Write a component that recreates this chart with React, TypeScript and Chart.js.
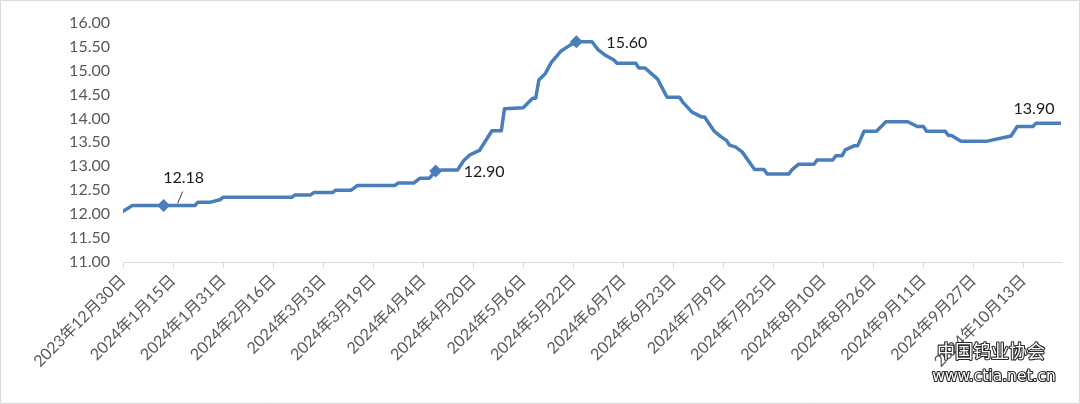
import React, { useEffect, useRef } from "react";
import { Chart, registerables } from "chart.js";

Chart.register(...registerables);

// Day offsets from 2023-12-30 and the price read at each vertex of the line
const dayOffsets = [
  0, 3, 13, 23, 24, 28, 31, 32, 54, 55, 60, 61, 67, 68, 73, 75, 87, 88, 93, 95,
  98, 100, 102, 107, 109, 111, 114, 118, 121, 122, 128, 131, 132, 133, 135, 137,
  140, 143, 145, 150, 152, 154, 157, 158, 164, 165, 167, 171, 174, 178, 179, 182,
  185, 186, 189, 191, 193, 194, 196, 198, 202, 205, 206, 213, 214, 216, 221, 222,
  227, 228, 230, 231, 234, 235, 237, 241, 244, 251, 254, 256, 257, 263, 264, 265,
  268, 276, 284, 286, 291, 292, 300,
];
const prices = [
  12.06, 12.18, 12.18, 12.18, 12.25, 12.25, 12.3, 12.35, 12.35, 12.4, 12.4, 12.45,
  12.45, 12.5, 12.5, 12.6, 12.6, 12.65, 12.65, 12.75, 12.75, 12.9, 12.92, 12.92,
  13.12, 13.24, 13.33, 13.74, 13.74, 14.2, 14.22, 14.42, 14.42, 14.8, 14.93, 15.17,
  15.4, 15.53, 15.6, 15.6, 15.43, 15.33, 15.22, 15.15, 15.15, 15.05, 15.05, 14.82,
  14.44, 14.44, 14.34, 14.13, 14.03, 14.03, 13.74, 13.63, 13.54, 13.44, 13.4, 13.3,
  12.93, 12.93, 12.84, 12.84, 12.93, 13.04, 13.04, 13.13, 13.13, 13.22, 13.22, 13.34,
  13.43, 13.43, 13.73, 13.73, 13.93, 13.93, 13.83, 13.83, 13.73, 13.73, 13.64, 13.64,
  13.52, 13.52, 13.63, 13.83, 13.83, 13.9, 13.9,
];
// Points carrying a diamond marker (day offsets)
const markerDays = [13, 100, 145];
const yTickValues = [11, 11.5, 12, 12.5, 13, 13.5, 14, 14.5, 15, 15.5, 16];
const xTickStepDays = 16;
const watermark = ["中国钨业协会", "www.ctia.net.cn"];

const LINE_COLOR = "#4a7ebb";
const FONT = "Lato, 'Noto Sans CJK SC', sans-serif";

function dayLabel(d: number): string {
  const dt = new Date(2023, 11, 30 + Math.round(d));
  return `${dt.getFullYear()}年${dt.getMonth() + 1}月${dt.getDate()}日`;
}

const decorPlugin = {
  id: "decor",
  beforeDraw(chart: any) {
    const { ctx, width, height } = chart;
    ctx.save();
    ctx.fillStyle = "#ffffff";
    ctx.fillRect(0, 0, width, height);
    ctx.restore();
  },
  afterDatasetsDraw(chart: any) {
    const { ctx } = chart;
    const meta = chart.getDatasetMeta(0);
    const idx = (d: number) => dayOffsets.indexOf(d);
    const p1 = meta.data[idx(13)];
    const p2 = meta.data[idx(100)];
    const p3 = meta.data[idx(145)];
    const pLast = meta.data[dayOffsets.length - 1];
    ctx.save();
    ctx.font = `16px ${FONT}`;
    ctx.fillStyle = "#1a1a1a";
    ctx.textBaseline = "middle";
    // 12.18 with leader line
    ctx.textAlign = "center";
    ctx.fillText(prices[idx(13)].toFixed(2), p1.x + 20, p1.y - 28);
    ctx.strokeStyle = "#404040";
    ctx.lineWidth = 1;
    ctx.beginPath();
    ctx.moveTo(p1.x + 19, p1.y - 14);
    ctx.lineTo(p1.x + 14, p1.y - 2);
    ctx.stroke();
    // 12.90
    ctx.textAlign = "left";
    ctx.fillText(prices[idx(100)].toFixed(2), p2.x + 28, p2.y + 1);
    // 15.60
    ctx.fillText(prices[idx(145)].toFixed(2), p3.x + 30, p3.y + 1);
    // 13.90
    ctx.textAlign = "center";
    ctx.fillText(prices[prices.length - 1].toFixed(2), pLast.x - 27, pLast.y - 14);
    ctx.restore();
  },
  afterDraw(chart: any) {
    const { ctx, width, height } = chart;
    ctx.save();
    // watermark: hollow outlined text
    ctx.textAlign = "center";
    ctx.textBaseline = "middle";
    ctx.lineJoin = "round";
    ctx.lineWidth = 2.2;
    ctx.strokeStyle = "#2a2a2a";
    ctx.fillStyle = "#ffffff";
    ctx.font = `18px 'Noto Sans CJK SC', sans-serif`;
    ctx.strokeText(watermark[0], 991, 351);
    ctx.fillText(watermark[0], 991, 351);
    ctx.font = `15.5px 'DejaVu Sans', sans-serif`;
    ctx.strokeText(watermark[1], 994, 377);
    ctx.fillText(watermark[1], 994, 377);
    // frame
    ctx.strokeStyle = "#d9d9d9";
    ctx.lineWidth = 1;
    ctx.strokeRect(0.5, 0.5, width - 1, height - 1);
    ctx.restore();
  },
};

export default function App() {
  const canvasRef = useRef<HTMLCanvasElement | null>(null);

  useEffect(() => {
    if (!canvasRef.current) return;
    const data = dayOffsets.map((d, i) => ({ x: d, y: prices[i] }));
    const chart = new Chart(canvasRef.current, {
      type: "line",
      data: {
        datasets: [
          {
            data,
            borderColor: LINE_COLOR,
            backgroundColor: LINE_COLOR,
            borderWidth: 3.5,
            borderJoinStyle: "round",
            borderCapStyle: "round",
            tension: 0,
            pointStyle: "rectRot",
            pointRadius: (c: any) => (markerDays.includes(dayOffsets[c.dataIndex]) ? 6.5 : 0),
            pointHoverRadius: 0,
            pointBorderWidth: 0,
          },
        ],
      },
      plugins: [decorPlugin],
      options: {
        responsive: false,
        animation: false,
        events: [],
        layout: { padding: { left: 0, top: 22, right: 19, bottom: 0 } },
        plugins: { legend: { display: false }, tooltip: { enabled: false } },
        scales: {
          x: {
            type: "linear",
            min: 0,
            max: 300,
            afterFit: (s: any) => {
              s.height = 142;
            },
            afterBuildTicks: (s: any) => {
              const t = [];
              for (let d = 0; d <= 300; d += xTickStepDays) t.push({ value: d });
              s.ticks = t;
            },
            ticks: {
              autoSkip: false,
              minRotation: 45,
              maxRotation: 45,
              color: "#595959",
              font: { family: FONT, size: 16 },
              padding: 3,
              callback: (v: any) => dayLabel(Number(v)),
            },
            grid: {
              drawOnChartArea: false,
              drawTicks: true,
              tickLength: 6,
              color: "#d9d9d9",
              lineWidth: 1,
            },
            border: { color: "#d9d9d9", width: 1 },
          },
          y: {
            min: 11,
            max: 16,
            afterFit: (s: any) => {
              s.width = 123;
            },
            afterBuildTicks: (s: any) => {
              s.ticks = yTickValues.map((v) => ({ value: v }));
            },
            ticks: {
              color: "#595959",
              font: { family: FONT, size: 16 },
              padding: 13,
              callback: (v: any) => Number(v).toFixed(2),
            },
            grid: { display: false, drawTicks: false },
            border: { display: false },
          },
        },
      } as any,
    });
    return () => chart.destroy();
  }, []);

  return (
    <div style={{ position: "fixed", left: 0, top: 0, width: 1080, height: 404, background: "#fff" }}>
      <canvas ref={canvasRef} width={1080} height={404} style={{ display: "block" }} />
    </div>
  );
}
